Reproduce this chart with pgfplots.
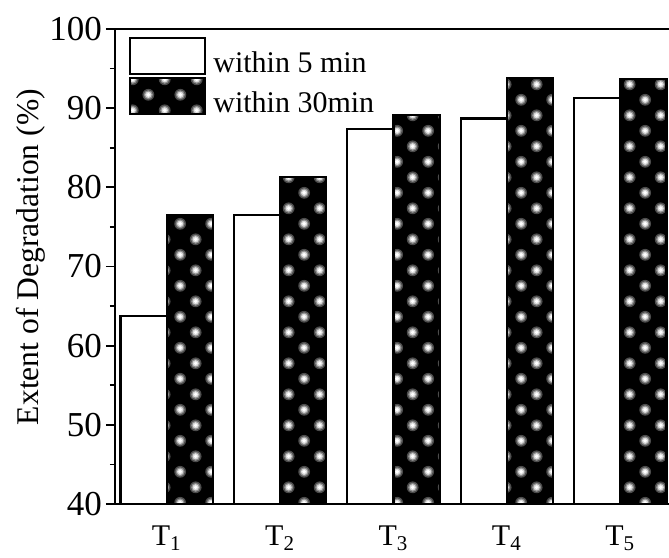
\documentclass[border=0pt]{standalone}
\usepackage{fontspec}
\setmainfont{Liberation Serif}
\usepackage{pgfplots}
\pgfplotsset{compat=1.18}
\usetikzlibrary{patterns}

% black ground with soft white dots, offset rows
\pgfdeclarepatterninherentlycolored{glowdots}{\pgfpointorigin}{\pgfqpoint{15.7pt}{15.7pt}}{\pgfqpoint{15.7pt}{15.7pt}}{%
  \pgfsetfillcolor{black}
  \pgfpathrectangle{\pgfpointorigin}{\pgfqpoint{15.7pt}{15.7pt}}\pgfusepath{fill}
  \pgfsetfillcolor{black!70}
  \pgfpathcircle{\pgfqpoint{3.9pt}{3.9pt}}{3pt}
  \pgfpathcircle{\pgfqpoint{11.8pt}{11.8pt}}{3pt}\pgfusepath{fill}
  \pgfsetfillcolor{black!45}
  \pgfpathcircle{\pgfqpoint{3.9pt}{3.9pt}}{2.3pt}
  \pgfpathcircle{\pgfqpoint{11.8pt}{11.8pt}}{2.3pt}\pgfusepath{fill}
  \pgfsetfillcolor{black!15}
  \pgfpathcircle{\pgfqpoint{3.9pt}{3.9pt}}{1.6pt}
  \pgfpathcircle{\pgfqpoint{11.8pt}{11.8pt}}{1.6pt}\pgfusepath{fill}
  \pgfsetfillcolor{white}
  \pgfpathcircle{\pgfqpoint{3.9pt}{3.9pt}}{1pt}
  \pgfpathcircle{\pgfqpoint{11.8pt}{11.8pt}}{1pt}\pgfusepath{fill}
}

\begin{document}
\begin{tikzpicture}
\begin{axis}[
  name=ax,
  width=277pt, height=237.5pt,
  scale only axis,
  xmin=0.544, xmax=5.43,
  ymin=40, ymax=100,
  ytick={40,50,...,100},
  minor y tick num=1,
  xtick={1,2,3,4,5},
  xticklabels={T\textsubscript{1},T\textsubscript{2},T\textsubscript{3},T\textsubscript{4},T\textsubscript{5}},
  axis y line*=left,
  tick align=outside,
  major tick length=4.5pt,
  minor tick length=2.5pt,
  x tick style={draw=none},
  y tick style={line width=0.9pt, black},
  axis line style={line width=1.3pt},
  /pgf/number format/assume math mode=true,
  y tick label style={font=\fontsize{17.5}{17.5}\selectfont, xshift=1.5pt},
  x tick label style={font=\fontsize{15}{15}\selectfont, yshift=-3pt},
  ylabel={Extent of Degradation (\%)},
  ylabel style={font=\fontsize{15.8}{15.8}\selectfont, at={(axis description cs:0,0.52)}, anchor=center, yshift=42pt},
  ybar, bar width=0.408,
  legend cell align=left,
  legend image code/.code={\draw[#1, line width=1pt] (0pt,-5.5pt) rectangle (37.5pt,12.5pt);},
  legend style={at={(0,1)}, anchor=north west, xshift=7pt, yshift=-4pt,
    draw=none, fill=none, inner sep=0pt, row sep=0.5pt,
    nodes={inner sep=0.5pt}, font=\fontsize{15}{15}\selectfont,
    /tikz/every odd column/.append style={column sep=3pt}},
]
\addplot[draw=black, fill=white, line width=1.1pt, bar shift=-0.204]
  coordinates {(1,63.7) (2,76.5) (3,87.4) (4,88.7) (5,91.3)};
\addlegendentry{within 5 min}
\addplot[draw=black, pattern=glowdots, line width=1.1pt, bar shift=0.204]
  coordinates {(1,76.5) (2,81.3) (3,89.1) (4,93.8) (5,93.7)};
\addlegendentry{within 30min}
\end{axis}
\pgfresetboundingbox
\useasboundingbox ([shift={(-57.5pt,-26.5pt)}]ax.south west) rectangle ([shift={(0pt,14.5pt)}]ax.north east);
\end{tikzpicture}
\end{document}
